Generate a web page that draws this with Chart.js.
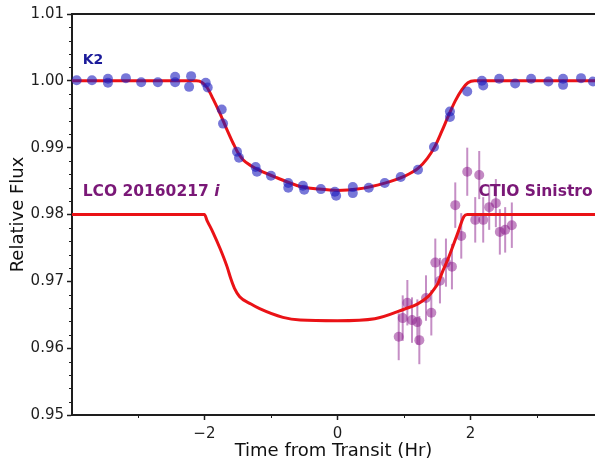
<!DOCTYPE html>
<html>
<head>
<meta charset="utf-8">
<script src="https://cdn.jsdelivr.net/npm/chart.js@4.4.1/dist/chart.umd.min.js"></script>
<style>
  html, body { margin: 0; padding: 0; background: #fff; overflow: hidden; }
</style>
</head>
<body>
<canvas id="lightcurve" width="595" height="462"></canvas>
<script>
'use strict'

// K2 folded photometry (hours from mid-transit, relative flux)
const k2Time = [-3.92, -3.69, -3.45, -3.45, -3.18, -2.95, -2.70, -2.44, -2.44, -2.20, -2.23,
  -1.98, -1.95, -1.74, -1.72, -1.51, -1.48, -1.23, -1.21, -1.00, -0.74, -0.74, -0.52, -0.50,
  -0.25, -0.04, -0.02, 0.23, 0.23, 0.47, 0.71, 0.95, 1.21, 1.45, 1.69, 1.69, 1.95, 2.17,
  2.19, 2.43, 2.67, 2.91, 3.17, 3.39, 3.39, 3.66, 3.84]
const k2Flux = [1.0001, 1.0001, 1.0003, 0.9997, 1.0004, 0.9998, 0.9998, 1.0006, 0.9998, 1.0007, 0.9991,
  0.9997, 0.9990, 0.9957, 0.9936, 0.9894, 0.9885, 0.9871, 0.9864, 0.9858, 0.9847, 0.9840, 0.9843, 0.9837,
  0.9838, 0.9834, 0.9828, 0.9841, 0.9832, 0.9840, 0.9847, 0.9856, 0.9867, 0.9901, 0.9954, 0.9946, 0.9984, 1.0000,
  0.9993, 1.0003, 0.9996, 1.0003, 0.9999, 1.0003, 0.9994, 1.0004, 0.9999]

// K2 best-fit model
const k2ModelTime = [-4.0, -2.12, -2.04, -1.96, -1.87, -1.77, -1.67, -1.57, -1.50, -1.42, -1.30, -1.17,
  -0.91, -0.56, -0.28, 0.0, 0.30, 0.71, 1.00, 1.21, 1.35, 1.47, 1.57, 1.66, 1.77, 1.87, 1.96, 2.06, 4.0]
const k2ModelFlux = [1.0000, 1.0000, 0.9998, 0.9990, 0.9973, 0.9952, 0.9929, 0.9907, 0.9893, 0.9882, 0.9873, 0.9866,
  0.9855, 0.9842, 0.9838, 0.9836, 0.9838, 0.9847, 0.9857, 0.9869, 0.9884, 0.9903, 0.9925, 0.9946, 0.9970, 0.9987, 0.9997, 1.0000, 1.0000]

// LCO i-band model (offset by -0.02)
const lcoModelTime = [-4.0, -2.00, -1.96, -1.87, -1.76, -1.66, -1.60, -1.55, -1.47, -1.30, -1.17, -0.82,
  -0.56, 0.0, 0.56, 1.02, 1.20, 1.36, 1.45, 1.51, 1.58, 1.66, 1.81, 1.90, 1.95, 4.0]
const lcoModelFlux = [0.9800, 0.9800, 0.9791, 0.9773, 0.9748, 0.9722, 0.9703, 0.9690, 0.9677, 0.9666, 0.9659, 0.9646,
  0.9642, 0.9641, 0.9644, 0.9659, 0.9666, 0.9677, 0.9688, 0.9697, 0.9715, 0.9733, 0.9773, 0.9797, 0.9800, 0.9800]

// CTIO Sinistro photometry with 1-sigma errors
const ctioTime = [0.92, 0.98, 1.05, 1.12, 1.20, 1.23, 1.33, 1.41, 1.47, 1.54, 1.63, 1.72,
  1.77, 1.86, 1.95, 2.07, 2.13, 2.19, 2.28, 2.38, 2.44, 2.52, 2.62]
const ctioFlux = [0.9617, 0.9645, 0.9668, 0.9642, 0.9639, 0.9612, 0.9675, 0.9653, 0.9728, 0.9701, 0.9728, 0.9722,
  0.9814, 0.9768, 0.9864, 0.9792, 0.9859, 0.9792, 0.9811, 0.9817, 0.9774, 0.9777, 0.9784]
const ctioErr = [0.0035, 0.0034, 0.0034, 0.0034, 0.0034, 0.0036, 0.0034, 0.0034, 0.0036, 0.0034, 0.0036, 0.0034,
  0.0034, 0.0034, 0.0036, 0.0034, 0.0036, 0.0034, 0.0034, 0.0036, 0.0034, 0.0034, 0.0034]

// axis ticks
const xMajorTicks = [-2, 0, 2]
const xMinorTicks = [-3, -1, 1, 3]
const yMajorTicks = [0.95, 0.96, 0.97, 0.98, 0.99, 1.00, 1.01]

const toPoints = (xs, ys) => xs.map((x, i) => ({ x: x, y: ys[i] }))

const axisColor = '#1e1e1e'
const redLine = 'rgb(234, 18, 22)'
const fontFamily = "'DejaVu Sans', sans-serif"

// error bars for any dataset carrying an `errors` array
const errorBars = {
  id: 'errorBars',
  beforeDatasetsDraw (chart) {
    const { ctx, scales } = chart
    chart.data.datasets.forEach(function (ds) {
      if (!ds.errors) return
      ctx.save()
      ctx.strokeStyle = ds.errorColor
      ctx.lineWidth = 2
      ds.data.forEach(function (p, i) {
        const x = scales.x.getPixelForValue(p.x)
        ctx.beginPath()
        ctx.moveTo(x, scales.y.getPixelForValue(p.y - ds.errors[i]))
        ctx.lineTo(x, scales.y.getPixelForValue(p.y + ds.errors[i]))
        ctx.stroke()
      })
      ctx.restore()
    })
  }
}

// small minor tick marks on the outside of the spines
const minorTicks = {
  id: 'minorTicks',
  afterDraw (chart) {
    const { ctx, chartArea, scales } = chart
    ctx.save()
    ctx.strokeStyle = axisColor
    ctx.lineWidth = 1
    ctx.beginPath()
    for (let v = 0.952; v < 1.0095; v += 0.002) {
      if (Math.abs(v * 100 - Math.round(v * 100)) < 1e-6) continue
      const y = Math.round(scales.y.getPixelForValue(v)) + 0.5
      ctx.moveTo(chartArea.left - 3, y)
      ctx.lineTo(chartArea.left, y)
    }
    xMinorTicks.forEach(function (v) {
      const x = Math.round(scales.x.getPixelForValue(v)) + 0.5
      ctx.moveTo(x, chartArea.bottom)
      ctx.lineTo(x, chartArea.bottom + 3)
    })
    ctx.stroke()
    ctx.restore()
  }
}

// in-plot dataset labels
const panelLabels = {
  id: 'panelLabels',
  afterDatasetsDraw (chart) {
    const { ctx, scales } = chart
    ctx.save()
    ctx.textBaseline = 'middle'
    ctx.textAlign = 'left'

    ctx.fillStyle = '#1b1b9a'
    ctx.font = 'bold 14px ' + fontFamily
    ctx.fillText('K2', scales.x.getPixelForValue(-3.83), scales.y.getPixelForValue(1.0031))

    ctx.fillStyle = '#7a1877'
    ctx.font = 'bold 15.5px ' + fontFamily
    const lx = scales.x.getPixelForValue(-3.83)
    const ly = scales.y.getPixelForValue(0.9833)
    const base = 'LCO 20160217 '
    ctx.fillText(base, lx, ly)
    const w = ctx.measureText(base).width
    ctx.font = 'italic bold 15.5px ' + fontFamily
    ctx.fillText('i', lx + w, ly)

    ctx.font = 'bold 15.5px ' + fontFamily
    ctx.fillText('CTIO Sinistro', scales.x.getPixelForValue(2.12), scales.y.getPixelForValue(0.9833))
    ctx.restore()
  }
}

const ctx = document.getElementById('lightcurve')

const lightCurve = new Chart(ctx, {
  type: 'scatter',
  data: {
    datasets: [{
      label: 'K2',
      data: toPoints(k2Time, k2Flux),
      backgroundColor: 'rgba(28, 28, 190, 0.6)',
      borderWidth: 0,
      pointRadius: 5,
      order: 0
    }, {
      label: 'K2 model',
      type: 'line',
      data: toPoints(k2ModelTime, k2ModelFlux),
      borderColor: redLine,
      borderWidth: 3,
      pointRadius: 0,
      fill: false,
      cubicInterpolationMode: 'monotone',
      order: 1
    }, {
      label: 'LCO model',
      type: 'line',
      data: toPoints(lcoModelTime, lcoModelFlux),
      borderColor: redLine,
      borderWidth: 3,
      pointRadius: 0,
      fill: false,
      cubicInterpolationMode: 'monotone',
      order: 1
    }, {
      label: 'CTIO Sinistro',
      data: toPoints(ctioTime, ctioFlux),
      errors: ctioErr,
      errorColor: 'rgba(140, 30, 140, 0.5)',
      backgroundColor: 'rgba(135, 20, 135, 0.5)',
      borderWidth: 0,
      pointRadius: 5,
      order: 2
    }]
  },
  options: {
    responsive: false,
    devicePixelRatio: 1,
    animation: false,
    layout: { autoPadding: false, padding: { top: 14, right: 0, bottom: 0, left: 0 } },
    plugins: {
      legend: { display: false },
      tooltip: { enabled: false }
    },
    scales: {
      x: {
        type: 'linear',
        position: 'bottom',
        min: -3.99,
        max: 3.87,
        afterBuildTicks: (axis) => { axis.ticks = xMajorTicks.map(v => ({ value: v })) },
        afterFit: (axis) => { axis.height = 47 },
        ticks: {
          color: axisColor,
          padding: 5,
          font: { family: fontFamily, size: 15 },
          callback: (v) => (v < 0 ? '\u2212' + Math.abs(v) : String(v))
        },
        grid: { drawOnChartArea: false, drawTicks: true, tickLength: 5, tickWidth: 1.5, tickColor: axisColor },
        border: { display: true, color: axisColor, width: 2 },
        title: {
          display: true,
          text: 'Time from Transit (Hr)',
          color: '#111',
          font: { family: fontFamily, size: 18 },
          padding: { top: 0, bottom: 0 }
        }
      },
      xTop: {
        type: 'linear',
        position: 'top',
        min: -3.99,
        max: 3.87,
        afterFit: (axis) => { axis.height = 0 },
        ticks: { display: false },
        grid: { display: false },
        border: { display: true, color: axisColor, width: 2 }
      },
      y: {
        type: 'linear',
        position: 'left',
        min: 0.95,
        max: 1.01,
        afterBuildTicks: (axis) => { axis.ticks = yMajorTicks.map(v => ({ value: v })) },
        afterFit: (axis) => { axis.width = 72 },
        ticks: {
          color: axisColor,
          padding: 3,
          font: { family: fontFamily, size: 15 },
          callback: (v) => v.toFixed(2)
        },
        grid: { drawOnChartArea: false, drawTicks: true, tickLength: 5, tickWidth: 1.5, tickColor: axisColor },
        border: { display: true, color: axisColor, width: 2 },
        title: {
          display: true,
          text: 'Relative Flux',
          color: '#111',
          font: { family: fontFamily, size: 18 },
          padding: { top: 8, bottom: 0 }
        }
      }
    }
  },
  plugins: [errorBars, minorTicks, panelLabels]
})
</script>
</body>
</html>
